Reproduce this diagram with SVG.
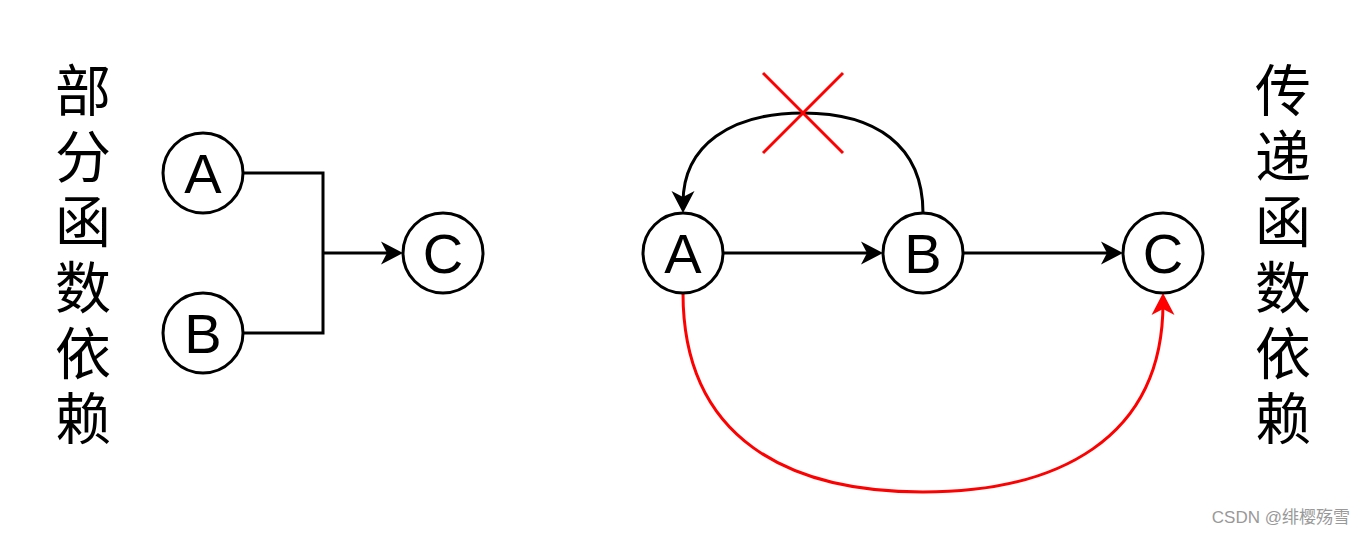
<svg xmlns="http://www.w3.org/2000/svg" width="1364" height="534" viewBox="0 0 1364 534">
<style>
.node circle{fill:#fff;stroke:#000;stroke-width:3}
.node text{font-family:"Liberation Sans",Arial,sans-serif;font-size:56px;fill:#000;text-anchor:middle}
.edge{fill:none;stroke:#000;stroke-width:3}
.red{stroke:#f00}
.vt{font-family:"Noto Sans CJK SC","Noto Sans CJK JP",sans-serif;font-size:56px;fill:#000;writing-mode:vertical-rl;letter-spacing:9.6px}
</style>
<defs>
<marker id="ah" viewBox="0 0 24 24" refX="12" refY="12" markerWidth="24" markerHeight="24" markerUnits="userSpaceOnUse" orient="auto">
<path d="M0,0.5 L22,12 L0,23.5 L6,12 Z" fill="#000"/>
</marker>
<marker id="ahr" viewBox="0 0 24 24" refX="12" refY="12" markerWidth="24" markerHeight="24" markerUnits="userSpaceOnUse" orient="auto">
<path d="M0,0.5 L22,12 L0,23.5 L6,12 Z" fill="#f00"/>
</marker>
</defs>
<rect width="1364" height="534" fill="#fff"/>
<g id="label-left">
<text class="vt" x="83" y="62">部分函数依赖</text>
</g>
<g id="label-right">
<text class="vt" x="1283" y="62">传递函数依赖</text>
</g>
<g id="connectors">
<path class="edge" d="M243,173 H323 V333 H243"/>
<path class="edge" d="M323,253 H393" marker-end="url(#ah)"/>
<path class="edge" d="M723,253 H873" marker-end="url(#ah)"/>
<path class="edge" d="M963,253 H1113" marker-end="url(#ah)"/>
<path class="edge" d="M923,213 C923,145 875,113 803,113 C731,113 683,145 683,203" marker-end="url(#ah)"/>
<path class="edge red" d="M683,293 C683,440 790,492 923,492 C1056,492 1163,440 1163,303" marker-end="url(#ahr)"/>
</g>
<g id="cross">
<path d="M763,73 L843,153 M843,73 L763,153" stroke="#f00" stroke-width="3" fill="none"/>
</g>
<g id="L-A" class="node"><circle cx="203" cy="173" r="40"/><text x="203" y="193">A</text></g>
<g id="L-B" class="node"><circle cx="203" cy="333" r="40"/><text x="203" y="353">B</text></g>
<g id="L-C" class="node"><circle cx="443" cy="253" r="40"/><text x="443" y="273">C</text></g>
<g id="R-A" class="node"><circle cx="683" cy="253" r="40"/><text x="683" y="273">A</text></g>
<g id="R-B" class="node"><circle cx="923" cy="253" r="40"/><text x="923" y="273">B</text></g>
<g id="R-C" class="node"><circle cx="1163" cy="253" r="40"/><text x="1163" y="273">C</text></g>
<g id="watermark">
<text x="1350" y="523" font-family="'Liberation Sans','Noto Sans CJK SC',sans-serif" font-size="17" fill="#999" text-anchor="end">CSDN @绯樱殇雪</text>
</g>
</svg>
